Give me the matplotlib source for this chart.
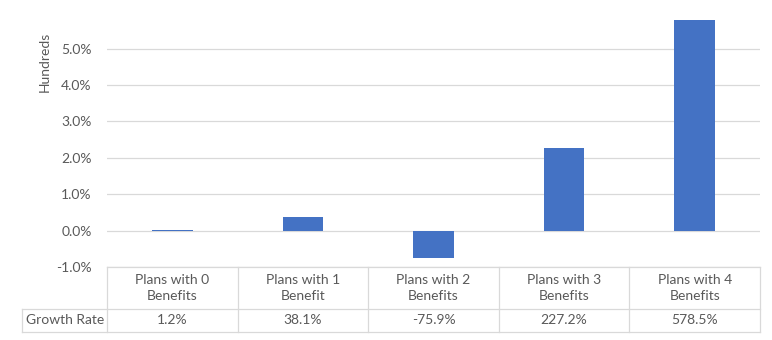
import numpy as np
import matplotlib.pyplot as plt

categories = ["Plans with 0\nBenefits", "Plans with 1\nBenefit", "Plans with 2\nBenefits",
              "Plans with 3\nBenefits", "Plans with 4\nBenefits"]
growth = [1.2, 38.1, -75.9, 227.2, 578.5]   # percent
row_label = "Growth Rate"
yticks = [-1, 0, 1, 2, 3, 4, 5]

plt.rcParams['font.family'] = ['Lato', 'DejaVu Sans']
txt = '#595959'
edge = '#d9d9d9'
fs = 10

W, H = 772, 340
fig = plt.figure(figsize=(W / 100, H / 100), dpi=100)
L, R, T, B = 107, 760, 19.5, 267
ax = fig.add_axes([L / W, 1 - B / H, (R - L) / W, (B - T) / H])

x = np.arange(len(categories))
vals = np.array(growth) / 100  # display unit: hundreds
ax.bar(x, vals, width=0.31, color='#4472C4', zorder=3)
ax.set_xlim(-0.5, len(categories) - 0.5)
ax.set_ylim(-1, 5.8)
ax.set_yticks(yticks)
ax.set_yticklabels([f"{t:.1f}%" for t in yticks], color=txt, fontsize=fs)
ax.tick_params(axis='y', length=0, pad=11)
ax.set_xticks([])
ax.grid(axis='y', color=edge, linewidth=0.9, zorder=0)
for s in ax.spines.values():
    s.set_visible(False)
ax.set_ylabel("Hundreds", color=txt, fontsize=fs)
ax.yaxis.set_label_coords(-56 / (R - L), 0.83)

# data table below plot
def fy(p):
    return 1 - p / H
def fx(p):
    return p / W

colw = (R - L) / len(categories)
r0, r1, r2 = 267, 309, 332
lw = 0.9
lines = [
    ((L, R), (r0, r0)),
    ((22, R), (r1, r1)),
    ((22, R), (r2, r2)),
    ((22, 22), (r1, r2)),
]
for i in range(len(categories) + 1):
    xx = L + i * colw
    lines.append(((xx, xx), (r0, r2)))
for (xs, ys) in lines:
    fig.add_artist(plt.Line2D([fx(v) for v in xs], [fy(v) for v in ys],
                              color=edge, linewidth=lw))

for i, (c, g) in enumerate(zip(categories, growth)):
    cx = L + (i + 0.5) * colw
    fig.text(fx(cx), fy((r0 + r1) / 2), c, ha='center', va='center',
             color=txt, fontsize=fs, linespacing=1.45)
    fig.text(fx(cx), fy((r1 + r2) / 2), f"{g:.1f}%", ha='center', va='center',
             color=txt, fontsize=fs)
fig.text(fx(26), fy((r1 + r2) / 2), row_label, ha='left', va='center',
         color=txt, fontsize=fs)

fig.savefig("out.png", dpi=100)
